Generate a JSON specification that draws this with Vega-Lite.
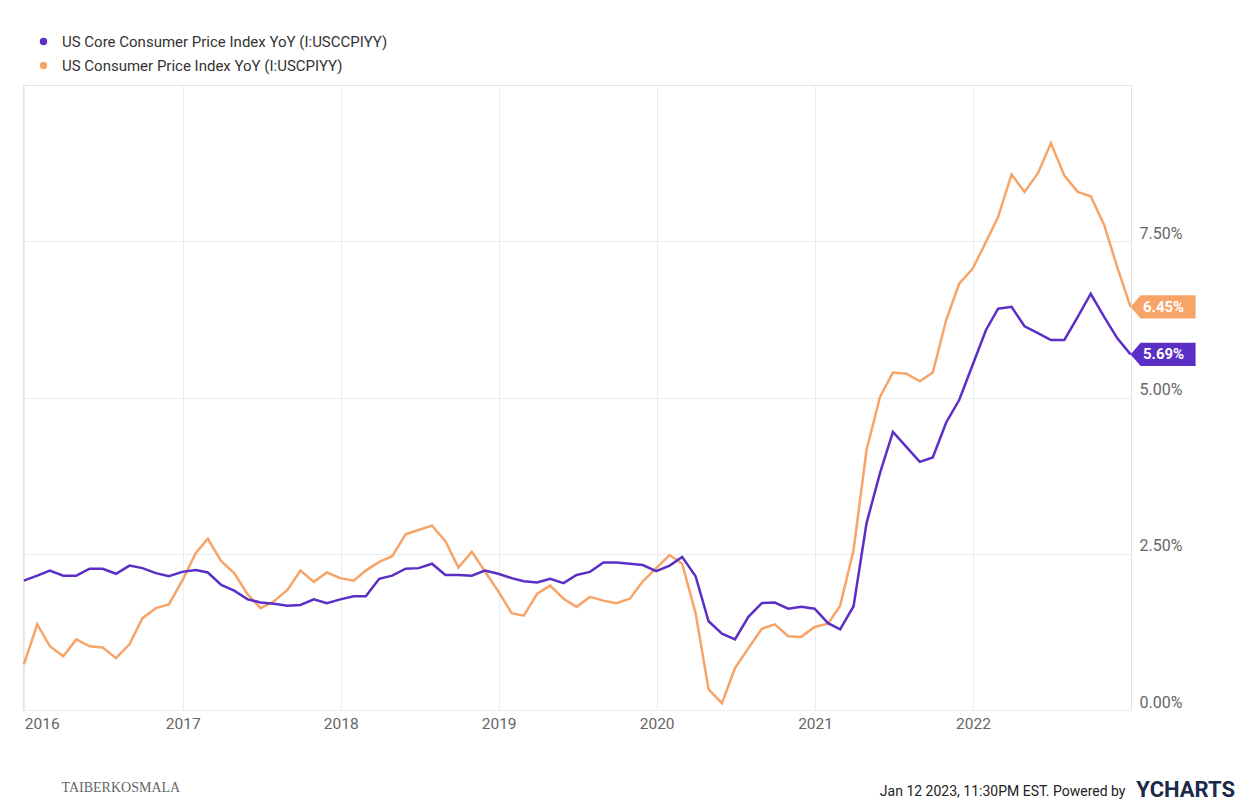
{
  "$schema": "https://vega.github.io/schema/vega-lite/v6.json",
  "width": 1108,
  "height": 625,
  "autosize": {"type": "none"},
  "padding": {"left": 23, "top": 85, "right": 120, "bottom": 99},
  "background": "white",
  "config": {"view": {"stroke": "#e3e3e3", "strokeWidth": 1}, "font": "Roboto"},
  "title": {"text": "YCHARTS", "orient": "bottom", "anchor": "end", "frame": "group", "font": "Roboto", "fontSize": 22, "fontWeight": "bold", "color": "#1b2a4a", "dx": 104, "dy": -22},
  "data": {"values": [
    {"date": "2015-12-31", "core": 2.07, "cpi": 0.73},
    {"date": "2016-01-31", "core": 2.15, "cpi": 1.37},
    {"date": "2016-02-29", "core": 2.23, "cpi": 1.02},
    {"date": "2016-03-31", "core": 2.15, "cpi": 0.86},
    {"date": "2016-04-30", "core": 2.15, "cpi": 1.13},
    {"date": "2016-05-31", "core": 2.26, "cpi": 1.02},
    {"date": "2016-06-30", "core": 2.26, "cpi": 1.00},
    {"date": "2016-07-31", "core": 2.18, "cpi": 0.83},
    {"date": "2016-08-31", "core": 2.31, "cpi": 1.05},
    {"date": "2016-09-30", "core": 2.27, "cpi": 1.47},
    {"date": "2016-10-31", "core": 2.19, "cpi": 1.63},
    {"date": "2016-11-30", "core": 2.14, "cpi": 1.69},
    {"date": "2016-12-31", "core": 2.21, "cpi": 2.07},
    {"date": "2017-01-31", "core": 2.24, "cpi": 2.51},
    {"date": "2017-02-28", "core": 2.20, "cpi": 2.74},
    {"date": "2017-03-31", "core": 2.00, "cpi": 2.38},
    {"date": "2017-04-30", "core": 1.91, "cpi": 2.19},
    {"date": "2017-05-31", "core": 1.77, "cpi": 1.85},
    {"date": "2017-06-30", "core": 1.72, "cpi": 1.63},
    {"date": "2017-07-31", "core": 1.70, "cpi": 1.74},
    {"date": "2017-08-31", "core": 1.67, "cpi": 1.92},
    {"date": "2017-09-30", "core": 1.68, "cpi": 2.23},
    {"date": "2017-10-31", "core": 1.77, "cpi": 2.05},
    {"date": "2017-11-30", "core": 1.71, "cpi": 2.20},
    {"date": "2017-12-31", "core": 1.77, "cpi": 2.11},
    {"date": "2018-01-31", "core": 1.82, "cpi": 2.07},
    {"date": "2018-02-28", "core": 1.82, "cpi": 2.23},
    {"date": "2018-03-31", "core": 2.10, "cpi": 2.37},
    {"date": "2018-04-30", "core": 2.15, "cpi": 2.46},
    {"date": "2018-05-31", "core": 2.26, "cpi": 2.81},
    {"date": "2018-06-30", "core": 2.27, "cpi": 2.88},
    {"date": "2018-07-31", "core": 2.34, "cpi": 2.95},
    {"date": "2018-08-31", "core": 2.16, "cpi": 2.70},
    {"date": "2018-09-30", "core": 2.16, "cpi": 2.28},
    {"date": "2018-10-31", "core": 2.15, "cpi": 2.53},
    {"date": "2018-11-30", "core": 2.23, "cpi": 2.22},
    {"date": "2018-12-31", "core": 2.18, "cpi": 1.90},
    {"date": "2019-01-31", "core": 2.11, "cpi": 1.55},
    {"date": "2019-02-28", "core": 2.06, "cpi": 1.51},
    {"date": "2019-03-31", "core": 2.04, "cpi": 1.86},
    {"date": "2019-04-30", "core": 2.10, "cpi": 1.99},
    {"date": "2019-05-31", "core": 2.03, "cpi": 1.78},
    {"date": "2019-06-30", "core": 2.16, "cpi": 1.65},
    {"date": "2019-07-31", "core": 2.21, "cpi": 1.81},
    {"date": "2019-08-31", "core": 2.36, "cpi": 1.75},
    {"date": "2019-09-30", "core": 2.36, "cpi": 1.71},
    {"date": "2019-10-31", "core": 2.34, "cpi": 1.78},
    {"date": "2019-11-30", "core": 2.32, "cpi": 2.06},
    {"date": "2019-12-31", "core": 2.22, "cpi": 2.27},
    {"date": "2020-01-31", "core": 2.31, "cpi": 2.48},
    {"date": "2020-02-29", "core": 2.45, "cpi": 2.34},
    {"date": "2020-03-31", "core": 2.14, "cpi": 1.55},
    {"date": "2020-04-30", "core": 1.42, "cpi": 0.33},
    {"date": "2020-05-31", "core": 1.22, "cpi": 0.11},
    {"date": "2020-06-30", "core": 1.13, "cpi": 0.67},
    {"date": "2020-07-31", "core": 1.49, "cpi": 0.99},
    {"date": "2020-08-31", "core": 1.71, "cpi": 1.30},
    {"date": "2020-09-30", "core": 1.72, "cpi": 1.37},
    {"date": "2020-10-31", "core": 1.62, "cpi": 1.18},
    {"date": "2020-11-30", "core": 1.65, "cpi": 1.17},
    {"date": "2020-12-31", "core": 1.62, "cpi": 1.33},
    {"date": "2021-01-31", "core": 1.39, "cpi": 1.38},
    {"date": "2021-02-28", "core": 1.29, "cpi": 1.67},
    {"date": "2021-03-31", "core": 1.66, "cpi": 2.56},
    {"date": "2021-04-30", "core": 2.99, "cpi": 4.16},
    {"date": "2021-05-31", "core": 3.79, "cpi": 5.01},
    {"date": "2021-06-30", "core": 4.45, "cpi": 5.40},
    {"date": "2021-07-31", "core": 4.21, "cpi": 5.38},
    {"date": "2021-08-31", "core": 3.97, "cpi": 5.26},
    {"date": "2021-09-30", "core": 4.04, "cpi": 5.40},
    {"date": "2021-10-31", "core": 4.60, "cpi": 6.24},
    {"date": "2021-11-30", "core": 4.96, "cpi": 6.82},
    {"date": "2021-12-31", "core": 5.52, "cpi": 7.06},
    {"date": "2022-01-31", "core": 6.08, "cpi": 7.49},
    {"date": "2022-02-28", "core": 6.42, "cpi": 7.89},
    {"date": "2022-03-31", "core": 6.45, "cpi": 8.57},
    {"date": "2022-04-30", "core": 6.14, "cpi": 8.29},
    {"date": "2022-05-31", "core": 6.03, "cpi": 8.59},
    {"date": "2022-06-30", "core": 5.92, "cpi": 9.07},
    {"date": "2022-07-31", "core": 5.92, "cpi": 8.55},
    {"date": "2022-08-31", "core": 6.29, "cpi": 8.29},
    {"date": "2022-09-30", "core": 6.66, "cpi": 8.22},
    {"date": "2022-10-31", "core": 6.29, "cpi": 7.76},
    {"date": "2022-11-30", "core": 5.95, "cpi": 7.09},
    {"date": "2022-12-31", "core": 5.69, "cpi": 6.45}
  ]},
  "transform": [{"fold": ["cpi", "core"], "as": ["series", "value"]}],
  "encoding": {
    "x": {
      "field": "date", "type": "temporal",
      "scale": {"type": "utc", "domain": [{"year": 2015, "month": 12, "date": 29, "utc": true}, {"year": 2023, "month": 1, "date": 1, "utc": true}]},
      "axis": {
        "format": "%Y",
        "values": [
          {"year": 2016, "month": 1, "date": 1, "utc": true},
          {"year": 2017, "month": 1, "date": 1, "utc": true},
          {"year": 2018, "month": 1, "date": 1, "utc": true},
          {"year": 2019, "month": 1, "date": 1, "utc": true},
          {"year": 2020, "month": 1, "date": 1, "utc": true},
          {"year": 2021, "month": 1, "date": 1, "utc": true},
          {"year": 2022, "month": 1, "date": 1, "utc": true}
        ],
        "grid": true, "gridColor": "#ececec", "ticks": false, "domain": false,
        "labelFontSize": 15.5, "labelColor": "#666", "labelPadding": 6, "labelFlush": 10,
        "title": "TAIBERKOSMALA", "titleFont": "Liberation Serif", "titleFontSize": 14, "titleFontWeight": "normal",
        "titleColor": "#666", "titleAnchor": "start", "titleAlign": "left", "titleBaseline": "middle",
        "titleX": 38, "titleY": 77
      }
    },
    "y": {
      "field": "value", "type": "quantitative",
      "scale": {"domain": [0, 10], "nice": false, "zero": false},
      "axis": {
        "orient": "right", "values": [0, 2.5, 5, 7.5],
        "labelExpr": "format(datum.value, '.2f') + '%'",
        "grid": true, "gridColor": "#ececec", "ticks": false, "domain": false,
        "labelAlign": "left", "labelBaseline": "bottom", "labelPadding": 8,
        "labelFontSize": 16, "labelColor": "#666",
        "title": "Jan 12 2023, 11:30PM EST. Powered by", "titleAngle": 0, "titleAlign": "right",
        "titleBaseline": "middle", "titleX": -6, "titleY": 706, "titleFont": "Roboto",
        "titleFontSize": 14, "titleFontWeight": "normal", "titleColor": "#222"
      }
    },
    "color": {
      "field": "series", "type": "nominal",
      "scale": {"domain": ["core", "cpi"], "range": ["#5b2fc6", "#f7a468"]},
      "legend": {
        "orient": "none", "legendX": 13, "legendY": -51, "direction": "vertical", "title": null,
        "symbolType": "circle", "symbolSize": 55, "symbolStrokeWidth": 0,
        "labelFontSize": 15, "labelColor": "#333", "labelFont": "Roboto", "labelOffset": 11,
        "rowPadding": 8, "labelLimit": 600,
        "labelExpr": "datum.label == 'core' ? 'US Core Consumer Price Index YoY (I:USCCPIYY)' : 'US Consumer Price Index YoY (I:USCPIYY)'",
        "encode": {"symbols": {"update": {"fill": {"scale": "color", "field": "value"}, "opacity": {"value": 1}}}}
      }
    }
  },
  "layer": [
    {"mark": {"type": "line", "strokeWidth": 2.5}},
    {
      "transform": [{"filter": "utcyear(datum.date) == 2022 && utcmonth(datum.date) == 11"}],
      "mark": {"type": "point", "shape": "M0,0L0.31,-0.354L2,-0.354L2,0.354L0.31,0.354Z", "size": 4225, "filled": true, "opacity": 1, "strokeWidth": 0}
    },
    {
      "transform": [{"filter": "utcyear(datum.date) == 2022 && utcmonth(datum.date) == 11"}],
      "mark": {"type": "text", "dx": 33, "align": "center", "baseline": "middle", "fontWeight": "bold", "fontSize": 15, "font": "Roboto", "text": {"expr": "format(datum.value, '.2f') + '%'"}},
      "encoding": {"color": {"value": "white"}}
    }
  ]
}
